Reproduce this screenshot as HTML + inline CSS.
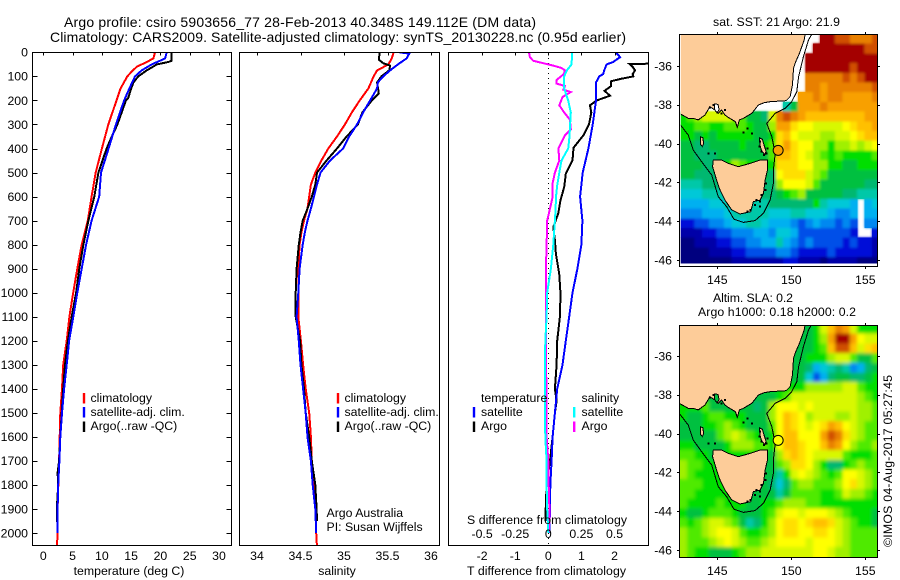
<!DOCTYPE html>
<html lang="en">
<head>
<meta charset="utf-8">
<title>Argo profile csiro 5903656_77</title>
<style>
html,body{margin:0;padding:0;background:#fff;width:900px;height:580px;overflow:hidden}
svg{display:block}
text{font-family:"Liberation Sans",sans-serif;font-size:12.3px;fill:#000}
</style>
</head>
<body>
<svg id="chart" xmlns="http://www.w3.org/2000/svg" width="900" height="580" viewBox="0 0 900 580">
<defs>
<clipPath id="clip-temp"><rect x="33" y="53" width="198" height="492"/></clipPath>
<clipPath id="clip-sal"><rect x="240" y="53" width="199" height="492"/></clipPath>
<clipPath id="clip-diff"><rect x="449" y="53" width="199" height="492"/></clipPath>
<clipPath id="clip-sst"><rect x="680.8" y="34" width="196.7" height="229.5"/></clipPath>
<clipPath id="clip-sla"><rect x="680" y="325" width="197.5" height="232"/></clipPath>
<filter id="blur-sst" filterUnits="userSpaceOnUse" x="660" y="20" width="240" height="260"><feGaussianBlur stdDeviation="1.2"/></filter>
<filter id="blur-sla" filterUnits="userSpaceOnUse" x="660" y="310" width="240" height="260"><feGaussianBlur stdDeviation="1.9"/></filter>
</defs>
<g id="root"></g>
<text x="64" y="27" style="font-size:14px" textLength="472" lengthAdjust="spacing">Argo profile: csiro 5903656_77 28-Feb-2013 40.348S 149.112E (DM data)</text>
<text x="50" y="42" style="font-size:14px" textLength="576" lengthAdjust="spacing">Climatology: CARS2009. Satellite-adjusted climatology: synTS_20130228.nc (0.95d earlier)</text>
<text x="129" y="575" text-anchor="middle">temperature (deg C)</text>
<text x="337" y="575" text-anchor="middle">salinity</text>
<text x="467" y="575" textLength="159" lengthAdjust="spacing">T difference from climatology</text>
<text x="467" y="524" textLength="160" lengthAdjust="spacing">S difference from climatology</text>
<text x="326.5" y="517">Argo Australia</text>
<text x="326.5" y="531">PI: Susan Wijffels</text>
<text x="713" y="26" textLength="127" lengthAdjust="spacing">sat. SST: 21 Argo: 21.9</text>
<text x="713" y="302" textLength="80" lengthAdjust="spacing">Altim. SLA: 0.2</text>
<text x="698" y="316" textLength="158" lengthAdjust="spacing">Argo h1000: 0.18 h2000: 0.2</text>
<text transform="translate(892,547) rotate(-90)" textLength="172" lengthAdjust="spacing">©IMOS 04-Aug-2017 05:27:45</text>
</svg>
<script>
// ---------- profile data ----------
const climTDepth=[0,25,40,60,80,100,150,200,300,400,500,600,700,800,900,1000,1100,1200,1300,1400,1500,1600,1700,1800,1900,2000,2060];
const climTValue=[19.07,18.8,17.65,15.95,15.1,14.35,13.2,12.5,11.1,10,8.95,8.25,7.6,6.55,5.8,5.1,4.45,4,3.4,3.2,2.9,2.8,2.7,2.56,2.45,2.4,2.35];
const satTDepth=[0,25,35,50,75,100,150,200,300,400,500,600,700,800,900,1000,1100,1200,1300,1400,1500,1600,1700,1800,1900,2000];
const satTValue=[21.07,20.8,19.9,18.5,16.8,15.65,14.7,13.8,12.4,11.15,9.85,9.55,8.25,7.3,6.55,5.8,5.12,4.4,4,3.55,3.2,2.9,2.75,2.55,2.45,2.4];
const argoTDepth=[0,35,40,50,75,100,125,150,190,200,300,350,400,500,600,700,800,900,1000,1100,1200,1300,1400,1500,1600,1700,1750,1800,1900,1955];
const argoTValue=[21.9,21.9,21.35,19.4,17.65,16.2,15.4,15,14.5,14.1,12.65,11.7,10.8,9.4,8.7,7.7,6.85,6.15,5.6,4.85,4.2,3.7,3.4,3.15,2.9,2.7,2.45,2.55,2.3,2.3];
const climSDepth=[0,25,50,75,100,150,200,250,300,350,400,450,500,550,600,650,700,750,800,900,1000,1100,1200,1300,1400,1500,1600,1700,1800,1900,2000,2060];
const climSValue=[35.57,35.55,35.51,35.38,35.34,35.28,35.18,35.09,35.01,34.92,34.82,34.74,34.67,34.62,34.6,34.58,34.54,34.51,34.49,34.475,34.475,34.475,34.505,34.53,34.56,34.6,34.62,34.63,34.65,34.67,34.68,34.69];
const satSDepth=[0,5,25,50,75,100,125,150,200,250,300,350,400,450,500,550,600,650,700,750,800,900,1000,1100,1200,1300,1400,1500,1600,1700,1800,1900,2000];
const satSValue=[35.64,35.75,35.72,35.62,35.53,35.45,35.39,35.38,35.3,35.22,35.15,35.06,34.99,34.84,34.73,34.69,34.655,34.62,34.58,34.55,34.525,34.49,34.475,34.455,34.48,34.5,34.53,34.56,34.58,34.62,34.64,34.67,34.68];
const argoSDepth=[0,30,45,55,75,100,125,170,200,250,300,350,400,450,500,550,600,650,700,750,800,900,1000,1100,1200,1300,1400,1500,1600,1700,1800,1900,1950];
const argoSValue=[35.41,35.4,35.45,35.53,35.52,35.43,35.38,35.4,35.32,35.21,35.16,35.03,34.92,34.8,34.69,34.67,34.63,34.58,34.525,34.5,34.48,34.455,34.445,34.445,34.495,34.51,34.54,34.56,34.6,34.63,34.67,34.685,34.69];
const satDTDepth=[0,10,20,30,40,50,75,90,100,125,200,300,400,500,600,700,800,900,1000,1100,1200,1300,1400,1500,1600,1700,1800,1900,2000];
const satDTValue=[2.03,2.11,2.17,2.06,1.96,1.76,1.69,1.66,1.54,1.44,1.44,1.34,1.21,1.04,0.96,1.03,1,0.88,0.73,0.63,0.53,0.43,0.27,0.2,0.13,0.1,0.06,0.05,0.03];
const argoDTDepth=[0,40,47,48,60,75,90,100,110,120,140,160,180,200,220,250,300,345,397,450,505,560,615,671,727,782,838,920,1004,1100,1200,1300,1400,1450,1500,1600,1700,1800,1900,1950];
const argoDTValue=[3.1,3.1,3.1,2.45,2.55,2.62,2.55,2.57,2.2,1.9,1.9,1.7,1.86,1.46,1.26,1.3,1.23,1.06,0.76,0.73,0.53,0.48,0.37,0.3,0.15,0.2,0.23,0.33,0.37,0.35,0.27,0.25,0.2,0.25,0.2,0.13,0.05,-0.05,-0.08,-0.08];
const satDSDepth=[0,50,75,100,150,200,250,300,350,400,450,500,550,600,650,700,800,900,1000,1100,1200,1300,1400,1500,1600,1700,1800,1900,2000];
const satDSValue=[0.18,0.176,0.14,0.12,0.12,0.15,0.17,0.165,0.16,0.15,0.1,0.083,0.068,0.058,0.055,0.05,0.038,0.02,-0.008,-0.013,-0.023,-0.025,-0.025,-0.025,-0.023,-0.013,-0.013,-0.008,0];
const argoDSDepth=[0,20,35,45,55,65,75,90,115,130,140,155,165,185,220,250,280,320,345,400,450,500,550,600,650,700,800,900,1000,1100,1200,1300,1400,1500,1600,1700,1800,1900,1950,2000];
const argoDSValue=[-0.146,-0.139,-0.113,-0.038,0.038,0.1,0.126,0.118,0.063,0.063,0.126,0.113,0.17,0.108,0.083,0.12,0.163,0.17,0.126,0.076,0.083,0.05,0.03,0.033,0.013,-0.008,-0.013,-0.018,-0.018,-0.018,-0.018,-0.018,-0.013,-0.013,-0.013,0,0.003,0.008,0.008,0.003];

// ---------- tick labels ----------
const depthTicks=[0,100,200,300,400,500,600,700,800,900,1000,1100,1200,1300,1400,1500,1600,1700,1800,1900,2000];
const tempTicks=[0,5,10,15,20,25,30];
const salTicks=[34,34.5,35,35.5,36];
const dtTicks=[-2,-1,0,1,2];
const dsTicks=[-0.5,-0.25,0,0.25,0.5];
const lonTicks=[145,150,155];
const latTicks=[-36,-38,-40,-42,-44,-46];

// ---------- map grids: colour level per 0.5 degree cell (-1 = no data) ----------
const sstLevels=[
[-1,-1,-1,-1,-1,-1,-1,-1,-1,-1,-1,-1,-1,-1,-1,-1,-1,-1,-1,20,20,19,19,18,18,18,19],
[-1,-1,-1,-1,-1,-1,-1,-1,-1,-1,-1,-1,-1,-1,-1,-1,-1,-1,20,20,20,20,20,20,20,19,19],
[-1,-1,-1,-1,-1,-1,-1,-1,-1,-1,-1,-1,-1,-1,-1,-1,-1,20,20,20,20,20,20,20,20,20,20],
[-1,-1,-1,-1,-1,-1,-1,-1,-1,-1,-1,-1,-1,-1,-1,-1,-1,20,20,20,20,20,20,19,20,20,20],
[-1,-1,-1,-1,-1,-1,-1,-1,-1,-1,-1,-1,-1,-1,-1,-1,-1,18,18,18,18,18,19,18,19,20,20],
[-1,-1,-1,-1,-1,-1,-1,-1,-1,-1,-1,-1,-1,-1,-1,-1,-1,18,18,17,18,18,18,18,18,18,19],
[-1,-1,-1,-1,-1,-1,-1,-1,-1,-1,-1,-1,-1,-1,-1,-1,17,17,18,17,18,18,17,17,17,17,18],
[-1,-1,-1,-1,-1,-1,-1,-1,-1,-1,-1,-1,-1,-1,7,9,17,17,17,18,17,17,17,17,17,17,17],
[10,11,12,13,13,13,13,12,11,9,9,8,13,18,19,18,17,16,16,16,16,16,16,16,16,17,17],
[10,10,11,11,10,10,11,11,11,10,9,9,12,17,17,15,14,14,13,13,13,13,14,15,16,16,17],
[10,10,9,10,9,10,10,10,10,10,9,9,10,15,16,14,13,13,13,12,12,13,13,14,15,16,16],
[9,9,8,8,9,9,9,9,10,9,9,10,11,15,17,15,14,14,12,12,10,12,12,13,12,13,14],
[9,9,8,8,8,9,9,9,9,9,9,9,11,16,16,15,14,13,12,11,10,11,10,10,10,10,11],
[9,9,9,8,8,8,10,12,11,10,10,10,10,15,15,15,14,14,12,12,10,10,9,9,10,10,10],
[9,9,8,8,8,8,9,9,9,9,9,9,8,14,15,15,15,13,12,11,9,9,9,9,9,9,9],
[7,7,7,8,8,8,8,8,8,8,8,8,8,12,14,14,14,13,11,9,9,9,9,9,9,8,8],
[6,6,6,7,7,7,8,8,8,8,8,8,8,9,10,11,12,9,9,9,9,9,8,8,7,7,7],
[5,5,5,5,6,6,7,7,7,7,7,7,8,8,8,8,8,8,10,7,6,6,6,5,-1,5,6],
[4,4,4,5,5,5,6,7,7,7,7,7,6,6,6,7,7,6,6,6,5,4,4,5,-1,5,5],
[2,2,3,3,4,4,5,6,6,7,7,6,5,5,5,4,3,4,5,4,4,3,4,3,-1,4,4],
[1,1,1,2,2,3,3,4,4,4,5,5,4,6,6,5,3,3,3,3,3,3,3,2,-1,-1,2],
[0,0,1,1,1,2,2,3,3,4,4,5,5,7,5,4,3,4,3,3,3,3,2,3,2,2,1],
[0,0,0,0,1,1,1,2,2,3,3,3,3,4,4,3,2,2,2,2,3,2,2,2,2,2,1],
[0,0,0,0,0,0,0,1,1,1,1,1,1,1,2,2,1,1,1,0,1,1,1,1,0,0,0]
];
const slaLevels=[
[9,9,9,9,9,9,9,9,9,9,9,9,9,9,9,9,9,9,10,13,16,18,17,13,10,10,10],
[9,9,9,9,9,9,9,9,9,9,9,9,9,9,9,9,9,9,10,12,17,20,20,17,14,13,13],
[9,9,9,9,9,9,9,9,9,9,9,9,9,9,9,9,9,9,10,11,16,19,19,16,13,15,16],
[9,9,9,9,9,9,9,9,9,9,9,9,9,9,9,9,9,10,10,10,12,13,13,11,9,9,11],
[9,9,9,9,9,9,9,9,9,9,9,9,9,9,9,9,9,8,5,6,7,8,7,4,5,8,9],
[9,9,9,9,9,9,9,9,9,9,9,9,9,9,9,9,9,6,3,5,8,9,9,8,8,9,10],
[10,10,10,10,10,10,10,10,10,10,10,10,10,10,10,10,10,12,12,12,12,12,13,13,11,10,10],
[9,9,9,9,9,9,9,9,9,9,9,9,9,10,11,13,13,13,13,13,13,13,13,13,12,11,10],
[10,10,10,11,9,9,9,9,9,9,8,9,12,14,14,14,13,14,13,13,13,13,13,13,12,12,11],
[10,9,9,10,11,11,10,10,10,9,9,9,12,14,16,15,14,12,13,13,13,12,12,13,12,12,11],
[9,9,9,10,10,11,12,11,10,9,9,9,11,14,16,15,14,13,14,15,17,16,14,13,12,11,11],
[9,9,9,9,9,11,12,13,12,11,10,9,10,14,16,16,14,14,14,17,19,18,15,13,12,11,11],
[10,10,9,9,9,9,10,12,12,12,11,11,10,14,16,16,15,14,14,16,18,17,14,12,11,11,12],
[11,11,10,10,9,9,10,10,10,10,10,10,9,12,15,16,15,14,13,13,13,13,11,10,10,10,11],
[12,11,11,10,10,9,9,9,9,9,9,9,9,11,12,15,15,14,12,10,8,8,10,11,12,11,11],
[12,11,10,10,10,10,9,9,9,9,9,9,9,7,10,13,14,13,12,11,10,11,14,14,13,12,11],
[11,11,11,10,10,10,10,9,9,9,9,9,8,6,8,11,12,12,11,11,11,12,14,15,13,12,11],
[11,11,10,10,10,10,10,9,9,9,9,9,9,7,9,11,11,11,11,10,10,11,13,12,12,11,10],
[11,10,10,10,10,11,10,10,10,9,9,10,10,11,12,12,12,11,11,10,10,10,10,10,10,10,10],
[10,9,9,10,11,11,11,10,9,9,9,10,11,13,14,14,13,14,14,14,13,12,11,10,10,10,9],
[11,10,11,12,13,13,12,11,9,7,8,10,12,14,15,15,14,15,16,16,15,13,12,11,10,10,9],
[12,11,11,12,13,14,14,13,11,10,10,11,12,14,15,15,14,14,15,15,14,13,12,11,11,11,11],
[12,11,11,11,12,13,14,13,12,11,11,12,13,14,14,14,14,13,14,14,14,13,12,11,11,11,11],
[12,11,10,10,9,9,9,10,11,12,12,13,13,13,13,13,13,13,14,14,13,12,12,11,11,11,11]
];
const profileLon=149.112;
const profileLat=-40.348;

// ---------- coastline geography (lon, lat) ----------
const mainlandLon=[142,150.94,150.87,150.55,150.26,150.15,150.08,149.92,149.65,148.57,148.16,147.78,147.33,146.76,146.49,146.35,146.22,145.74,145.52,145.29,145.07,144.84,144.5,144.16,143.71,143.37,143.04,142.43,142];
const mainlandLat=[-34,-34.35,-34.66,-35.35,-35.86,-36.12,-36.98,-37.58,-37.79,-37.84,-37.89,-38.01,-38.44,-38.7,-38.78,-39.16,-38.87,-38.65,-38.53,-38.27,-38.44,-38.27,-38.1,-38.53,-38.78,-38.7,-38.7,-38.44,-38.44];
const tasmaniaLon=[144.73,145.29,145.74,146.42,147.21,147.89,148.39,148.39,148.23,148.12,147.89,147.44,147.26,146.53,145.97,145.52,145.18,144.95,144.68];
const tasmaniaLat=[-40.85,-40.85,-41.02,-41.19,-41.02,-40.85,-40.85,-41.36,-41.88,-42.56,-42.91,-42.99,-43.51,-43.63,-43.42,-42.91,-42.39,-41.88,-41.19];
const kingIslandLon=[143.85,144.02,144.08,143.98,143.88];
const kingIslandLat=[-39.65,-39.7,-40,-40.15,-40.05];
const flindersLon=[147.85,148.05,148.15,148.3,148.22,148.0,147.88];
const flindersLat=[-39.7,-39.78,-40.05,-40.4,-40.55,-40.4,-40.05];
const isobathLon=[142.47,143.04,143.37,143.94,144.62,145.07,145.63,146.13,146.76,147.55,148.12,148.57,148.79,148.79,148.91,148.68,148.34,148.91,149.58,150.03,150.37,150.49,150.82,151.16,151.39];
const isobathLat=[-39,-39.56,-40.33,-40.93,-41.62,-42.74,-43.25,-43.9,-44.06,-43.97,-43.59,-42.91,-42.05,-41.36,-40.5,-39.64,-38.96,-38.44,-38.18,-37.84,-37.32,-36.55,-35.52,-34.66,-34.35];
const islandSpeckLon=[147.89,147.84,148,148.34,148.39,148.16,147.66,147.89,147.55,147.89,147.26,147.03,148.3,148.25,148,146.76,147.33,147.03,144.39,144.84,144.5,145.29,144.73,145.52];
const islandSpeckLat=[-39.9,-40.16,-40.42,-40.5,-40.24,-40.59,-42.91,-42.99,-43.16,-43.25,-43.42,-43.51,-42.05,-42.39,-42.65,-39.42,-39.47,-39.23,-40.5,-40.5,-38.13,-38.44,-38.01,-38.27];
const bayLon=[144.8,145.05,145.12,144.98,144.82];
const bayLat=[-37.95,-37.98,-38.25,-38.42,-38.25];

// ---------- axis functions ----------
const yDepth=d=>52.4+d*0.2403;
const xTemp=v=>43.3+v*5.857;
const xSal=v=>257+(v-34)*87;
const xDT=v=>548.3+v*33.1;
const xDS=v=>548.3+v*132.4;
const xLon=v=>717.3+(v-145)*14.8;
const yLat=(v,top)=>top+(-36-v)*19.4;

const colormap=['#00007f','#0000a8','#0010d8','#0050e8','#0088f0','#00b0f0','#00c8d8','#00c8a8','#00b870','#00c040','#00de00','#50ea00','#a0f000','#d8f800','#ffff00','#ffdf00','#ffc000','#f8a000','#e88000','#d05000','#a40000'];
const NS='http://www.w3.org/2000/svg';
const root=document.getElementById('root');
function mk(tag,attrs,parent){
  const e=document.createElementNS(NS,tag);
  for(const k in attrs)e.setAttribute(k,attrs[k]);
  (parent||root).appendChild(e);
  return e;
}
function label(txt,x,y,anchor,name){
  const t=mk('text',{x:x,y:y,'text-anchor':anchor});
  t.textContent=txt;
  
  
  return t;
}
function series(depths,vals,xf,color,clip,name){
  const pts=depths.map((d,i)=>xf(vals[i]).toFixed(1)+','+yDepth(d).toFixed(1)).join(' ');
  const p=mk('polyline',{points:pts,fill:'none',stroke:color,'stroke-width':2,'clip-path':'url(#'+clip+')','shape-rendering':'crispEdges'});
  
  
}
function frame(x,y,w,h,name){
  const r=mk('rect',{x:x,y:y,width:w,height:h,fill:'none',stroke:'#000','stroke-width':1,'shape-rendering':'crispEdges'});
  
  
}
function tick(x1,y1,x2,y2,name){
  const l=mk('line',{x1:x1,y1:y1,x2:x2,y2:y2,stroke:'#000','stroke-width':1,'shape-rendering':'crispEdges'});
  
  
}
function legendBar(x,y,color,name){
  const r=mk('rect',{x:x,y:y,width:2.4,height:10.5,fill:color});
  
  
}

// ---------- profile panels ----------
series(climTDepth,climTValue,xTemp,'#ff0000','clip-temp','temperature-climatology-line');
series(argoTDepth,argoTValue,xTemp,'#000000','clip-temp','temperature-argo-line');
series(satTDepth,satTValue,xTemp,'#0000ff','clip-temp','temperature-satellite-line');
series(climSDepth,climSValue,xSal,'#ff0000','clip-sal','salinity-climatology-line');
series(argoSDepth,argoSValue,xSal,'#000000','clip-sal','salinity-argo-line');
series(satSDepth,satSValue,xSal,'#0000ff','clip-sal','salinity-satellite-line');
const zeroLine=mk('line',{x1:548.5,y1:53,x2:548.5,y2:545,stroke:'#000','stroke-width':1,'stroke-dasharray':'1 4','shape-rendering':'crispEdges'});


series(argoDTDepth,argoDTValue,xDT,'#000000','clip-diff','t-difference-argo-line');
series(satDTDepth,satDTValue,xDT,'#0000ff','clip-diff','t-difference-satellite-line');
series(argoDSDepth,argoDSValue,xDS,'#ff00ff','clip-diff','s-difference-argo-line');
series(satDSDepth,satDSValue,xDS,'#00ffff','clip-diff','s-difference-satellite-line');

frame(32.5,52.5,199,493,'temperature-panel-frame');
frame(239.5,52.5,200,493,'salinity-panel-frame');
frame(448.5,52.5,200,493,'difference-panel-frame');

depthTicks.forEach(d=>{
  const y=Math.round(yDepth(d))+0.5;
  tick(32.5,y,37.5,y,'depth-tick-left');
  tick(226.5,y,231.5,y,'depth-tick-right');
  label(String(d),28,yDepth(d)+4.3,'end','depth-tick-label');
});
tempTicks.forEach(v=>{
  const x=Math.round(xTemp(v))+0.5;
  tick(x,52.5,x,55.5,'temperature-tick');
  label(String(v),xTemp(v),560,'middle','temperature-tick-label');
});
salTicks.forEach(v=>{
  const x=Math.round(xSal(v))+0.5;
  tick(x,52.5,x,55.5,'salinity-tick');
  label(String(v),xSal(v),560,'middle','salinity-tick-label');
});
dtTicks.forEach(v=>{
  const x=Math.round(xDT(v))+0.5;
  tick(x,52.5,x,55.5,'t-difference-tick');
  label(String(v),xDT(v),560,'middle','t-difference-tick-label');
});
dsTicks.forEach(v=>{
  label(String(v),xDS(v),538,'middle','s-difference-tick-label');
});

// ---------- legends ----------
legendBar(82.8,393,'#ff0000','temp-legend-climatology-swatch');
legendBar(82.8,407,'#0000ff','temp-legend-satellite-swatch');
legendBar(82.8,421.5,'#000000','temp-legend-argo-swatch');
label('climatology',90.5,402,'start','temp-legend-climatology-label');
label('satellite-adj. clim.',90.5,416,'start','temp-legend-satellite-label');
label('Argo(..raw -QC)',90.5,430,'start','temp-legend-argo-label');
legendBar(336.8,393,'#ff0000','sal-legend-climatology-swatch');
legendBar(336.8,407,'#0000ff','sal-legend-satellite-swatch');
legendBar(336.8,421.5,'#000000','sal-legend-argo-swatch');
label('climatology',344.5,402,'start','sal-legend-climatology-label');
label('satellite-adj. clim.',344.5,416,'start','sal-legend-satellite-label');
label('Argo(..raw -QC)',344.5,430,'start','sal-legend-argo-label');
label('temperature',481,402,'start','diff-legend-temperature-heading');
label('satellite',481,416,'start','diff-legend-t-satellite-label');
label('Argo',481,430,'start','diff-legend-t-argo-label');
label('salinity',581.5,402,'start','diff-legend-salinity-heading');
label('satellite',581.5,416,'start','diff-legend-s-satellite-label');
label('Argo',581.5,430,'start','diff-legend-s-argo-label');
legendBar(472.8,407,'#0000ff','diff-legend-t-satellite-swatch');
legendBar(472.8,421.5,'#000000','diff-legend-t-argo-swatch');
legendBar(573,407,'#00ffff','diff-legend-s-satellite-swatch');
legendBar(573,421.5,'#ff00ff','diff-legend-s-argo-swatch');

// ---------- maps ----------
function drawMap(levels,top,frameTop,frameH,clip,prefix,markerLevel,blurId,bayFill){
  const g=mk('g',{'clip-path':'url(#'+clip+')'});
  
  
  const cells=mk('g',{id:prefix+'-cells'},g);
  
  
  levels.forEach((row,r)=>{
    row.forEach((v,c)=>{
      if(v<0)return;
      const lonL=142.45+c*0.5, latT=-34.35-r*0.5;
      const x=xLon(lonL), y=yLat(latT,top);
      const cell=mk('rect',{x:x.toFixed(1),y:y.toFixed(1),width:7.5,height:9.8,fill:colormap[v],'shape-rendering':'crispEdges'},cells);
      
      
    });
  });
  const smooth=mk('use',{href:'#'+prefix+'-cells',filter:'url(#'+blurId+')'},g);
  
  
  const addPoly=(lons,lats,fill,name)=>{
    const pts=lons.map((v,i)=>xLon(v).toFixed(1)+','+yLat(lats[i],top).toFixed(1)).join(' ');
    const p=mk('polygon',{points:pts,fill:fill,stroke:'#000','stroke-width':1,'shape-rendering':'crispEdges'},g);
    
    
  };
  addPoly(mainlandLon,mainlandLat,'#fdcc99',prefix+'-mainland');
  addPoly(bayLon,bayLat,bayFill,prefix+'-port-phillip-bay');
  addPoly(tasmaniaLon,tasmaniaLat,'#fdcc99',prefix+'-tasmania');
  addPoly(kingIslandLon,kingIslandLat,'#fdcc99',prefix+'-king-island');
  addPoly(flindersLon,flindersLat,'#fdcc99',prefix+'-flinders-island');
  islandSpeckLon.forEach((v,i)=>{
    const s=mk('rect',{x:(xLon(v)-1).toFixed(1),y:(yLat(islandSpeckLat[i],top)-1).toFixed(1),width:2,height:2,fill:'#000','shape-rendering':'crispEdges'},g);
    
    
  });
  const iso=mk('polyline',{points:isobathLon.map((v,i)=>xLon(v).toFixed(1)+','+yLat(isobathLat[i],top).toFixed(1)).join(' '),fill:'none',stroke:'#000','stroke-width':1,'shape-rendering':'crispEdges'},g);
  
  
  const marker=mk('circle',{cx:xLon(profileLon),cy:yLat(profileLat,top),r:5,fill:colormap[markerLevel],stroke:'#000','stroke-width':1});
  
  
  frame(679.5,frameTop+0.5,198,frameH,prefix+'-map-frame');
  lonTicks.forEach(v=>{
    const x=Math.round(xLon(v))+0.5;
    tick(x,frameTop+0.5,x,frameTop-2,prefix+'-lon-tick-top');
    tick(x,frameTop+frameH+0.5,x,frameTop+frameH+3,prefix+'-lon-tick-bottom');
    label(String(v),xLon(v),frameTop+frameH+18,'middle',prefix+'-lon-label');
  });
  latTicks.forEach(v=>{
    const y=Math.round(yLat(v,top))+0.5;
    tick(677,y,679.5,y,prefix+'-lat-tick-left');
    tick(877.5,y,880,y,prefix+'-lat-tick-right');
    label(String(v),672,yLat(v,top)+4.3,'end',prefix+'-lat-label');
  });
}
drawMap(sstLevels,66,34,232,'clip-sst','sst',17,'blur-sst','#ffffff');
drawMap(slaLevels,356,325,232,'clip-sla','sla',14,'blur-sla','#00c040');
</script>
</body>
</html>
